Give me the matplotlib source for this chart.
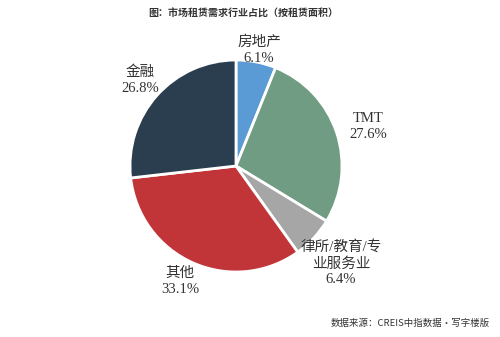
import matplotlib.pyplot as plt

plt.rcParams['font.family'] = ['Liberation Serif', 'Noto Sans CJK SC', 'DejaVu Sans']

# 行业分类及占比（按租赁面积）
industries = ['房地产', 'TMT', '律所/教育/专\n业服务业', '其他', '金融']
shares = [6.1, 27.6, 6.4, 33.1, 26.8]
colors = ['#5b9bd5', '#6f9c82', '#a6a6a6', '#c13538', '#2b3e4f']

# 标签位置（像素坐标，饼图外侧）
label_px = [(259, 50), (368, 126), (341, 263), (180, 281), (140, 80)]

fig = plt.figure(figsize=(5, 3.37), dpi=100)
fig.patch.set_facecolor('white')

cx, cy, r = 236, 166, 106
ax = fig.add_axes([(cx - r) / 500, (337 - cy - r) / 337, 2 * r / 500, 2 * r / 337])
ax.pie(shares, colors=colors, startangle=90, counterclock=False, radius=1,
       wedgeprops=dict(edgecolor='white', linewidth=2))
ax.set_xlim(-1, 1)
ax.set_ylim(-1, 1)
ax.set_aspect('equal')
ax.axis('off')

for name, val, (px, py) in zip(industries, shares, label_px):
    x = (px - cx) / r
    y = (cy - py) / r
    ax.text(x, y, f'{name}\n{val:.1f}%', ha='center', va='center',
            fontsize=10.5, color='#333333', linespacing=1.3, clip_on=False)

fig.text(0.487, 0.958, '图：市场租赁需求行业占比（按租赁面积）', ha='center', va='center',
         fontsize=7.2, fontweight='bold', color='#333333',
         family=['Noto Sans CJK SC', 'DejaVu Sans'])
fig.text(0.98, 0.042, '数据来源：CREIS中指数据·写字楼版', ha='right', va='center',
         fontsize=6.8, color='#333333', family=['Noto Sans CJK SC', 'DejaVu Sans'])

fig.savefig('out.png', dpi=100)
